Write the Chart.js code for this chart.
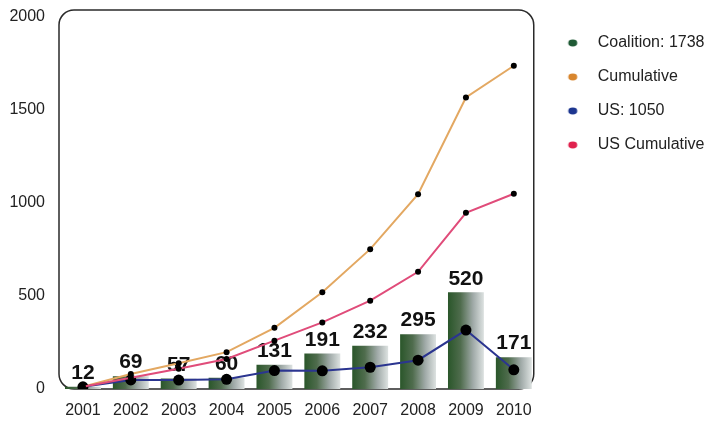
<!DOCTYPE html>
<html>
<head>
<meta charset="utf-8">
<script src="https://cdn.jsdelivr.net/npm/chart.js@4/dist/chart.umd.min.js"></script>
<style>
  html, body { margin: 0; padding: 0; background: #fff; }
  #wrap { width: 722px; height: 425px; }
</style>
</head>
<body>
<div id="wrap"><canvas id="chart" width="722" height="425"></canvas></div>
<script>
const years = ['2001', '2002', '2003', '2004', '2005', '2006', '2007', '2008', '2009', '2010'];
const coalition = [12, 69, 57, 60, 131, 191, 232, 295, 520, 171];
const cumulative = [12, 81, 138, 198, 329, 520, 752, 1047, 1567, 1738];
const us = [12, 49, 48, 52, 99, 98, 117, 155, 317, 103];
const usCumulative = [12, 61, 109, 161, 260, 358, 475, 630, 947, 1050];
const yTicks = [0, 500, 1000, 1500, 2000];

const FONT = '"Liberation Sans", Arial, sans-serif';

// small blurry dot for the legend
function legendDot(color) {
  const c = document.createElement('canvas');
  c.width = 12; c.height = 10;
  const g = c.getContext('2d');
  g.filter = 'blur(0.6px)';
  g.fillStyle = color;
  g.beginPath();
  g.ellipse(6, 5, 4.5, 3.4, 0, 0, Math.PI * 2);
  g.fill();
  return c;
}
const legendColors = ['#1f5a35', '#d8862e', '#1d3690', '#e0224e'];

function barFill(c) {
  const chart = c.chart;
  const xs = chart.scales && chart.scales.x;
  if (!xs || c.dataIndex === undefined) return '#4f6d4c';
  const cx = xs.getPixelForValue(c.dataIndex);
  const w = xs.width / years.length * 0.75;
  if (!isFinite(cx) || !isFinite(w) || w <= 0) return '#4f6d4c';
  const g = chart.ctx.createLinearGradient(cx - w / 2, 0, cx + w / 2, 0);
  g.addColorStop(0, '#2a562a');
  g.addColorStop(0.35, '#4f6c4d');
  g.addColorStop(0.7, '#a0aaa8');
  g.addColorStop(1, '#dde2e1');
  return g;
}

const frame = {
  id: 'frame',
  beforeDatasetsDraw(chart) {
    const a = chart.chartArea, ctx = chart.ctx;
    ctx.save();
    ctx.strokeStyle = '#2a2a2a';
    ctx.lineWidth = 1.5;
    ctx.beginPath();
    ctx.roundRect(a.left, a.top - 7, a.right - a.left - 4, a.bottom - a.top + 7, 15);
    ctx.stroke();
    ctx.restore();
  }
};

const barValues = {
  id: 'barValues',
  afterDatasetDraw(chart, args) {
    if (args.index !== 0) return;
    const ctx = chart.ctx;
    ctx.save();
    ctx.font = 'bold 21px ' + FONT;
    ctx.fillStyle = '#111';
    ctx.textAlign = 'center';
    ctx.textBaseline = 'bottom';
    args.meta.data.forEach((bar, i) => {
      ctx.fillText(String(coalition[i]), bar.x, bar.y - 3);
    });
    ctx.restore();
  }
};

new Chart(document.getElementById('chart'), {
  data: {
    labels: years,
    datasets: [
      {
        type: 'bar',
        label: 'Coalition: 1738',
        data: coalition,
        backgroundColor: barFill,
        borderWidth: 0,
        categoryPercentage: 1,
        barPercentage: 0.75,
        order: 4
      },
      {
        type: 'line',
        label: 'Cumulative',
        data: cumulative,
        borderColor: '#e3a862',
        borderWidth: 2,
        pointRadius: 3,
        pointBackgroundColor: '#000',
        pointBorderWidth: 0,
        tension: 0,
        order: 3
      },
      {
        type: 'line',
        label: 'US: 1050',
        data: us,
        borderColor: '#2b3590',
        borderWidth: 2,
        pointRadius: 5.5,
        pointBackgroundColor: '#000',
        pointBorderWidth: 0,
        tension: 0,
        order: 2
      },
      {
        type: 'line',
        label: 'US Cumulative',
        data: usCumulative,
        borderColor: '#e04c7a',
        borderWidth: 2,
        pointRadius: 3,
        pointBackgroundColor: '#000',
        pointBorderWidth: 0,
        tension: 0,
        order: 1
      }
    ]
  },
  options: {
    responsive: false,
    animation: false,
    layout: { padding: { left: 9, right: 8, top: 5, bottom: 5 } },
    scales: {
      x: {
        grid: { display: false, drawTicks: false },
        border: { display: false },
        ticks: { color: '#222', font: { family: FONT, size: 16 }, padding: 12, maxRotation: 0 },
        afterFit: (s) => { s.height = 31; s.paddingLeft = 0; s.paddingRight = 0; }
      },
      y: {
        min: 0,
        max: 2000,
        afterBuildTicks: (s) => { s.ticks = yTicks.map(v => ({ value: v })); },
        grid: { display: false, drawTicks: false },
        border: { display: false },
        ticks: { color: '#222', font: { family: FONT, size: 16 }, padding: 14, callback: (v) => String(v) },
        afterFit: (s) => { s.width = 50; s.paddingTop = 17; s.paddingBottom = 10; }
      }
    },
    plugins: {
      tooltip: { enabled: false },
      legend: {
        position: 'right',
        align: 'start',
        fullSize: false,
        labels: {
          font: { family: FONT, size: 16 },
          color: '#222',
          padding: 18,
          usePointStyle: true,
          pointStyleWidth: 34,
          sort: (a, b) => a.datasetIndex - b.datasetIndex,
          generateLabels: (chart) => {
            const items = Chart.defaults.plugins.legend.labels.generateLabels(chart);
            items.forEach(it => {
              it.pointStyle = legendDot(legendColors[it.datasetIndex]);
              it.lineWidth = 0;
            });
            return items;
          }
        }
      }
    }
  },
  plugins: [frame, barValues]
});
</script>
</body>
</html>
